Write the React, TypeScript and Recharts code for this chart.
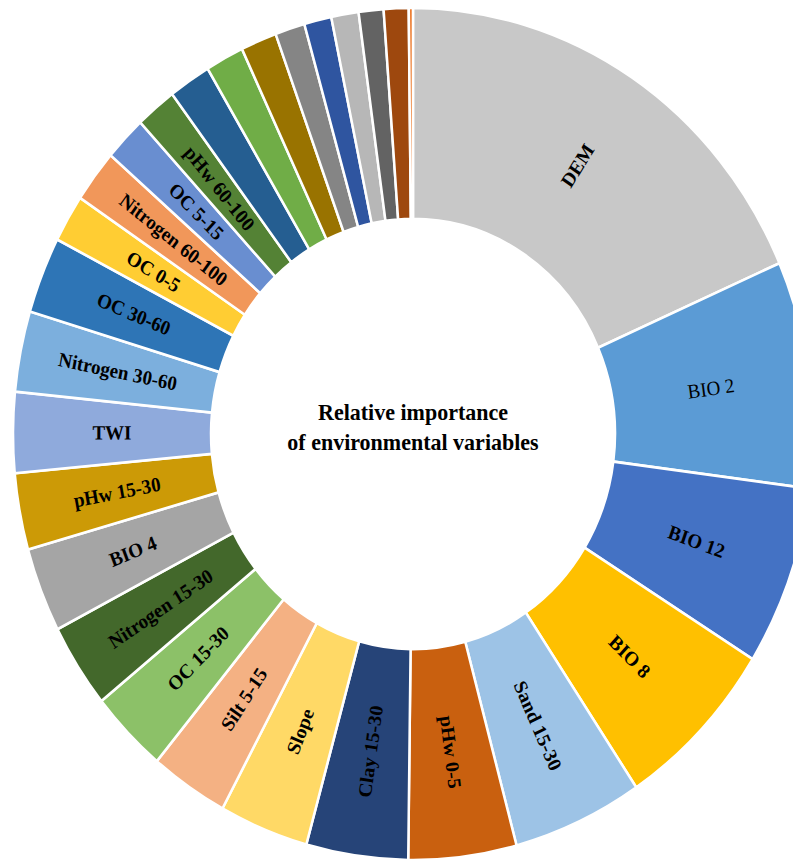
import { PieChart, Pie, Cell } from 'recharts'

const variables = [
  'DEM', 'BIO 2', 'BIO 12', 'BIO 8', 'Sand 15-30', 'pHw 0-5', 'Clay 15-30', 'Slope',
  'Silt 5-15', 'OC 15-30', 'Nitrogen 15-30', 'BIO 4', 'pHw 15-30', 'TWI',
  'Nitrogen 30-60', 'OC 30-60', 'OC 0-5', 'Nitrogen 60-100', 'OC 5-15', 'pHw 60-100',
  '', '', '', '', '', '', '', '', '',
]
const importance = [
  18.4, 8.6, 6.8, 6.7, 5.25, 4.35, 4.1, 3.6,
  3.15, 3.15, 3.2, 3.2, 2.9, 3.05,
  3.05, 2.9, 1.8, 2.0, 1.7, 1.65,
  1.7, 1.55, 1.45, 1.2, 1.1, 1.1, 1.0, 1.0, 0.17,
]
const colors = [
  '#c8c8c8', '#5b9bd5', '#4472c4', '#ffc000', '#9dc3e6', '#c9600f', '#264478', '#ffd966',
  '#f4b183', '#8cc168', '#43682b', '#a5a5a5', '#cc9a06', '#8faadc',
  '#7cafdd', '#2e75b6', '#ffcd33', '#f1975a', '#698ed0', '#548235',
  '#255e91', '#70ad47', '#997300', '#858585', '#2f55a0', '#b7b7b7', '#636363', '#9e480e', '#ed7d31',
]
const thinLabels = ['BIO 2']

const data = variables.map((name, i) => ({ name, value: importance[i] }))

const RAD = Math.PI / 180

function renderLabel(props: any) {
  const { cx, cy, midAngle, innerRadius, outerRadius, index } = props
  const name = variables[index]
  if (!name) return null
  const r = (innerRadius + outerRadius) / 2
  const x = cx + r * Math.cos(-midAngle * RAD)
  const y = cy + r * Math.sin(-midAngle * RAD)
  const clock = 90 - midAngle
  const norm = ((clock % 360) + 360) % 360
  const rot = norm < 180 ? norm - 90 : norm - 270
  return (
    <text
      x={x}
      y={y}
      textAnchor="middle"
      dominantBaseline="central"
      transform={`rotate(${rot}, ${x}, ${y})`}
      fill="#000"
      fontFamily="'Liberation Serif', 'Times New Roman', serif"
      fontWeight={thinLabels.includes(name) ? 'normal' : 'bold'}
      fontSize={19}
    >
      {name}
    </text>
  )
}

export default function App() {
  return (
    <div style={{ width: 793, height: 852, overflow: 'hidden', position: 'relative' }}>
      <div
        style={{
          position: 'relative',
          width: 810,
          height: 800,
          transform: 'scaleY(1.065)',
          transformOrigin: 'top left',
        }}
      >
        <PieChart width={810} height={800} margin={{ top: 0, right: 0, bottom: 0, left: 0 }}>
          <Pie
            data={data}
            dataKey="value"
            nameKey="name"
            cx={405}
            cy={400}
            innerRadius={202}
            outerRadius={400}
            startAngle={90}
            endAngle={-270}
            stroke="#fff"
            strokeWidth={2.5}
            label={renderLabel}
            labelLine={false}
            isAnimationActive={false}
          >
            {data.map((d, i) => (
              <Cell key={i} fill={colors[i]} />
            ))}
          </Pie>
        </PieChart>
        <div
          style={{
            position: 'absolute',
            left: 205,
            top: 366,
            width: 400,
            textAlign: 'center',
            fontFamily: "'Liberation Serif', 'Times New Roman', serif",
            fontWeight: 'bold',
            fontSize: 22,
            lineHeight: '27.5px',
            color: '#000',
          }}
        >
          Relative importance
          <br />
          of environmental variables
        </div>
      </div>
    </div>
  )
}
